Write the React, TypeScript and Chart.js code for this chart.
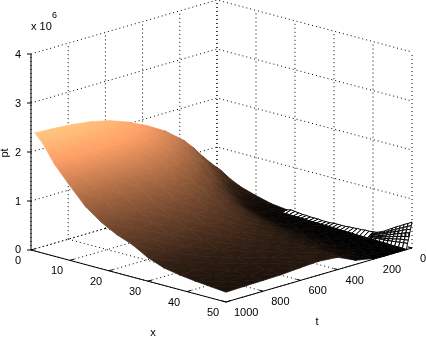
import React, { useEffect, useRef } from "react";
import { Chart, registerables } from "chart.js";

Chart.register(...registerables);

// x positions and t positions of the surface samples
const xs = [1, 3, 6, 10, 14, 18, 22, 26, 30, 34, 38, 42, 46, 50];
const ts = [0, 30, 60, 100, 150, 200, 300, 400, 500, 600, 700, 800, 900, 1000];
// pt / 1e6, one row per t, one column per x
const pt0 = [0.55, 0.44, 0.32, 0.22, 0.14, 0.10, 0.08, 0.07, 0.08, 0.10, 0.12, 0.20, 0.36, 0.53];
const pt30 = [0.66, 0.50, 0.30, 0.14, 0.08, 0.08, 0.07, 0.06, 0.05, 0.04, 0.03, 0.02, 0.01, 0.00];
const pt60 = [0.78, 0.62, 0.38, 0.18, 0.08, 0.05, 0.03, 0.02, 0.02, 0.01, 0.01, 0.00, 0.00, 0.00];
const pt100 = [0.95, 0.80, 0.55, 0.28, 0.12, 0.06, 0.04, 0.03, 0.02, 0.02, 0.01, 0.01, 0.00, 0.00];
const pt150 = [1.18, 1.04, 0.78, 0.47, 0.24, 0.14, 0.09, 0.07, 0.05, 0.04, 0.03, 0.02, 0.01, 0.00];
const pt200 = [1.38, 1.25, 1.00, 0.66, 0.42, 0.28, 0.20, 0.14, 0.11, 0.08, 0.06, 0.05, 0.03, 0.01];
const pt300 = [1.68, 1.56, 1.33, 1.02, 0.75, 0.56, 0.42, 0.33, 0.27, 0.22, 0.19, 0.16, 0.12, 0.08];
const pt400 = [1.90, 1.80, 1.58, 1.25, 0.98, 0.77, 0.61, 0.49, 0.39, 0.33, 0.29, 0.28, 0.27, 0.25];
const pt500 = [2.08, 1.99, 1.77, 1.42, 1.12, 0.90, 0.72, 0.58, 0.46, 0.37, 0.32, 0.30, 0.29, 0.28];
const pt600 = [2.22, 2.13, 1.88, 1.50, 1.19, 0.96, 0.78, 0.63, 0.49, 0.39, 0.33, 0.29, 0.27, 0.26];
const pt700 = [2.31, 2.21, 1.94, 1.54, 1.21, 0.98, 0.80, 0.65, 0.50, 0.39, 0.32, 0.28, 0.25, 0.23];
const pt800 = [2.36, 2.25, 1.95, 1.54, 1.21, 0.98, 0.80, 0.66, 0.50, 0.38, 0.31, 0.27, 0.24, 0.22];
const pt900 = [2.39, 2.26, 1.92, 1.53, 1.19, 0.97, 0.79, 0.66, 0.49, 0.37, 0.30, 0.26, 0.23, 0.21];
const pt1000 = [2.41, 2.24, 1.88, 1.52, 1.18, 0.95, 0.78, 0.66, 0.48, 0.36, 0.30, 0.26, 0.23, 0.20];
const ptRows = [pt0, pt30, pt60, pt100, pt150, pt200, pt300, pt400, pt500, pt600, pt700, pt800, pt900, pt1000];

// wireframe strip at the start of t
const wireLeftX = [18, 19, 20, 21, 22, 23, 24, 25, 26, 27, 28, 29, 30, 31, 32, 33, 34, 35, 36, 37, 38, 39, 40];
const wireLeftTop = [0.10, 0.12, 0.11, 0.10, 0.09, 0.09, 0.08, 0.08, 0.08, 0.07, 0.07, 0.07, 0.08, 0.08, 0.08, 0.08, 0.09, 0.09, 0.10, 0.10, 0.11, 0.11, 0.12];
const wireLeftBottom = [0.08, 0.08, 0.08, 0.07, 0.07, 0.07, 0.07, 0.06, 0.06, 0.06, 0.05, 0.05, 0.05, 0.05, 0.05, 0.04, 0.04, 0.04, 0.04, 0.03, 0.03, 0.03, 0.03];
const wireRightX = [40, 41, 42, 43, 44, 45, 46, 47, 48, 49, 50];
const wireRightT = [0, 4, 8, 12, 16, 20, 24, 30];
const wire0 = [0.12, 0.13, 0.16, 0.20, 0.25, 0.30, 0.35, 0.39, 0.44, 0.48, 0.53];
const wire4 = [0.10, 0.11, 0.14, 0.17, 0.21, 0.26, 0.30, 0.34, 0.38, 0.42, 0.46];
const wire8 = [0.09, 0.10, 0.12, 0.15, 0.18, 0.22, 0.26, 0.29, 0.33, 0.36, 0.39];
const wire12 = [0.08, 0.09, 0.10, 0.12, 0.15, 0.18, 0.21, 0.24, 0.27, 0.30, 0.32];
const wire16 = [0.07, 0.07, 0.08, 0.10, 0.12, 0.14, 0.17, 0.19, 0.21, 0.23, 0.25];
const wire20 = [0.05, 0.06, 0.06, 0.08, 0.09, 0.11, 0.12, 0.14, 0.16, 0.17, 0.18];
const wire24 = [0.04, 0.04, 0.05, 0.06, 0.06, 0.07, 0.08, 0.09, 0.10, 0.11, 0.12];
const wire30 = [0.03, 0.03, 0.02, 0.02, 0.02, 0.02, 0.01, 0.01, 0.01, 0.01, 0.00];
const wireRows = [wire0, wire4, wire8, wire12, wire16, wire20, wire24, wire30];

// axis ticks
const xTicks = [0, 10, 20, 30, 40, 50];
const tTicks = [0, 200, 400, 600, 800, 1000];
const zTicks = [0, 1, 2, 3, 4];

const W = 426;
const H = 339;
const Z_PEAK = 2.42;

type P = { x: number; y: number };

function proj(x: number, t: number, z: number): P {
  return {
    x: 217 + (x / 50) * 195 - (t / 1000) * 186,
    y: 196 + (x / 50) * 52 + (t / 1000) * 54 - z * 49,
  };
}

function copper(v: number): string {
  const c = Math.max(0, Math.min(1, v));
  return `rgb(${Math.round(255 * Math.min(1, 1.25 * c))},${Math.round(199.2 * c)},${Math.round(126.9 * c)})`;
}

function triPaint(ctx: CanvasRenderingContext2D, p: P[], z: number[]): string | CanvasGradient {
  const v = z.map((a) => a / Z_PEAK);
  const ax = p[1].x - p[0].x, ay = p[1].y - p[0].y;
  const bx = p[2].x - p[0].x, by = p[2].y - p[0].y;
  const dv1 = v[1] - v[0], dv2 = v[2] - v[0];
  const det = ax * by - ay * bx;
  const mean = (v[0] + v[1] + v[2]) / 3;
  if (Math.abs(det) < 1e-3) return copper(mean);
  const gx = (dv1 * by - dv2 * ay) / det;
  const gy = (ax * dv2 - bx * dv1) / det;
  const g2 = gx * gx + gy * gy;
  const lo = Math.min(...v), hi = Math.max(...v);
  if (g2 < 1e-12 || hi - lo < 1e-4) return copper(mean);
  const s = (lo - v[0]) / g2, e = (hi - v[0]) / g2;
  const grad = ctx.createLinearGradient(p[0].x + gx * s, p[0].y + gy * s, p[0].x + gx * e, p[0].y + gy * e);
  for (let i = 0; i <= 4; i++) grad.addColorStop(i / 4, copper(lo + ((hi - lo) * i) / 4));
  return grad;
}

function line(pts: P[], color: string, dash: number[] = [], width = 1) {
  return {
    data: pts,
    showLine: true,
    fill: false,
    pointRadius: 0,
    borderColor: color,
    borderWidth: width,
    borderDash: dash,
    tension: 0,
  };
}

function shape(pts: P[], fillColor: any, edge: any, width: number) {
  return {
    data: [...pts, pts[0]],
    showLine: true,
    fill: "shape",
    pointRadius: 0,
    backgroundColor: fillColor,
    borderColor: edge,
    borderWidth: width,
    tension: 0,
  };
}

function buildDatasets(ctx: CanvasRenderingContext2D) {
  const farFirst: any[] = [];
  const dots = [1, 3];
  // back walls and floor
  zTicks.forEach((z) => {
    farFirst.push(line([proj(0, 1000, z), proj(0, 0, z), proj(50, 0, z)], "#000", dots));
  });
  tTicks.forEach((t) => {
    farFirst.push(line([proj(0, t, 0), proj(0, t, 4)], "#000", dots));
    farFirst.push(line([proj(0, t, 0), proj(50, t, 0)], "#000", dots));
  });
  xTicks.forEach((x) => {
    farFirst.push(line([proj(x, 0, 0), proj(x, 0, 4)], "#000", dots));
    farFirst.push(line([proj(x, 0, 0), proj(x, 1000, 0)], "#000", dots));
  });
  // wireframe
  wireLeftX.slice(0, -1).forEach((x, i) => {
    const xn = wireLeftX[i + 1];
    farFirst.push(
      shape(
        [proj(x, 0, wireLeftTop[i]), proj(xn, 0, wireLeftTop[i + 1]), proj(xn, 30, wireLeftBottom[i + 1]), proj(x, 30, wireLeftBottom[i])],
        "#fff", "#000", 1,
      ),
    );
  });
  wireRightT.slice(0, -1).forEach((t, r) => {
    const tn = wireRightT[r + 1];
    wireRightX.slice(0, -1).forEach((x, i) => {
      const xn = wireRightX[i + 1];
      farFirst.push(
        shape(
          [proj(x, t, wireRows[r][i]), proj(xn, t, wireRows[r][i + 1]), proj(xn, tn, wireRows[r + 1][i + 1]), proj(x, tn, wireRows[r + 1][i])],
          "#fff", "#000", 1,
        ),
      );
    });
  });
  // surface, far to near
  ts.slice(0, -1).forEach((t, r) => {
    const tn = ts[r + 1];
    xs.slice(0, -1).forEach((x, i) => {
      if (t === 0 && x >= 18) return;
      const xn = xs[i + 1];
      const z00 = ptRows[r][i], z01 = ptRows[r][i + 1], z10 = ptRows[r + 1][i], z11 = ptRows[r + 1][i + 1];
      const p00 = proj(x, t, z00), p01 = proj(xn, t, z01), p10 = proj(x, tn, z10), p11 = proj(xn, tn, z11);
      const a = triPaint(ctx, [p00, p01, p10], [z00, z01, z10]);
      const b = triPaint(ctx, [p01, p11, p10], [z01, z11, z10]);
      farFirst.push(shape([p00, p01, p10], a, a, 0.7));
      farFirst.push(shape([p01, p11, p10], b, b, 0.7));
    });
  });
  // solid axes
  farFirst.push(line([proj(0, 1000, 0), proj(0, 1000, 4)], "#000"));
  farFirst.push(line([proj(0, 1000, 0), proj(50, 1000, 0)], "#000"));
  farFirst.push(line([proj(50, 1000, 0), proj(50, 0, 0)], "#000"));
  zTicks.forEach((z) => {
    const p = proj(0, 1000, z);
    farFirst.push(line([p, { x: p.x - 4, y: p.y }], "#000"));
  });
  xTicks.forEach((x) => {
    const p = proj(x, 1000, 0);
    farFirst.push(line([p, { x: p.x + 4, y: p.y - 1.2 }], "#000"));
  });
  tTicks.forEach((t) => {
    const p = proj(50, t, 0);
    farFirst.push(line([p, { x: p.x - 4, y: p.y - 1.1 }], "#000"));
  });
  return farFirst.reverse();
}

const labelsPlugin = {
  id: "labels3d",
  afterDraw(chart: any) {
    const { ctx, scales } = chart;
    const sx = (v: number) => scales.x.getPixelForValue(v);
    const sy = (v: number) => scales.y.getPixelForValue(v);
    ctx.save();
    ctx.fillStyle = "#000";
    ctx.font = '11px "Liberation Sans"';
    ctx.textBaseline = "middle";
    ctx.textAlign = "center";
    zTicks.forEach((z) => {
      const p = proj(0, 1000, z);
      ctx.fillText(String(z), sx(p.x - 13), sy(p.y + (z === 0 ? -0.5 : 1)));
    });
    xTicks.forEach((x) => {
      const p = proj(x, 1000, 0);
      ctx.fillText(String(x), sx(p.x - 13), sy(p.y + 11));
    });
    ctx.textAlign = "left";
    tTicks.forEach((t) => {
      const p = proj(50, t, 0);
      ctx.fillText(String(t), sx(p.x + 8), sy(p.y + 11));
    });
    ctx.textAlign = "center";
    ctx.fillText("x", sx(153), sy(333));
    ctx.fillText("t", sx(317), sy(322));
    ctx.textAlign = "left";
    ctx.fillText("x 10", sx(31), sy(27));
    ctx.font = '9px "Liberation Sans"';
    ctx.fillText("6", sx(52), sy(16));
    ctx.font = '11px "Liberation Sans"';
    ctx.save();
    ctx.translate(sx(5), sy(153));
    ctx.rotate(-Math.PI / 2);
    ctx.textAlign = "center";
    ctx.fillText("pt", 0, 0);
    ctx.restore();
    ctx.restore();
  },
};

export default function App() {
  const ref = useRef<HTMLCanvasElement>(null);
  useEffect(() => {
    const canvas = ref.current!;
    const ctx = canvas.getContext("2d")!;
    const chart = new Chart(canvas, {
      type: "scatter",
      data: { datasets: buildDatasets(ctx) },
      options: {
        animation: false,
        responsive: false,
        events: [],
        layout: { padding: 0 },
        clip: false,
        scales: {
          x: { type: "linear", min: 0, max: W, display: false },
          y: { type: "linear", min: 0, max: H, reverse: true, display: false },
        },
        plugins: { legend: { display: false }, tooltip: { enabled: false } },
      } as any,
      plugins: [labelsPlugin],
    } as any);
    return () => chart.destroy();
  }, []);
  return (
    <div style={{ position: "fixed", left: 0, top: 0, width: W, height: H, background: "#fff" }}>
      <canvas ref={ref} width={W} height={H} style={{ display: "block", width: W, height: H }} />
    </div>
  );
}
